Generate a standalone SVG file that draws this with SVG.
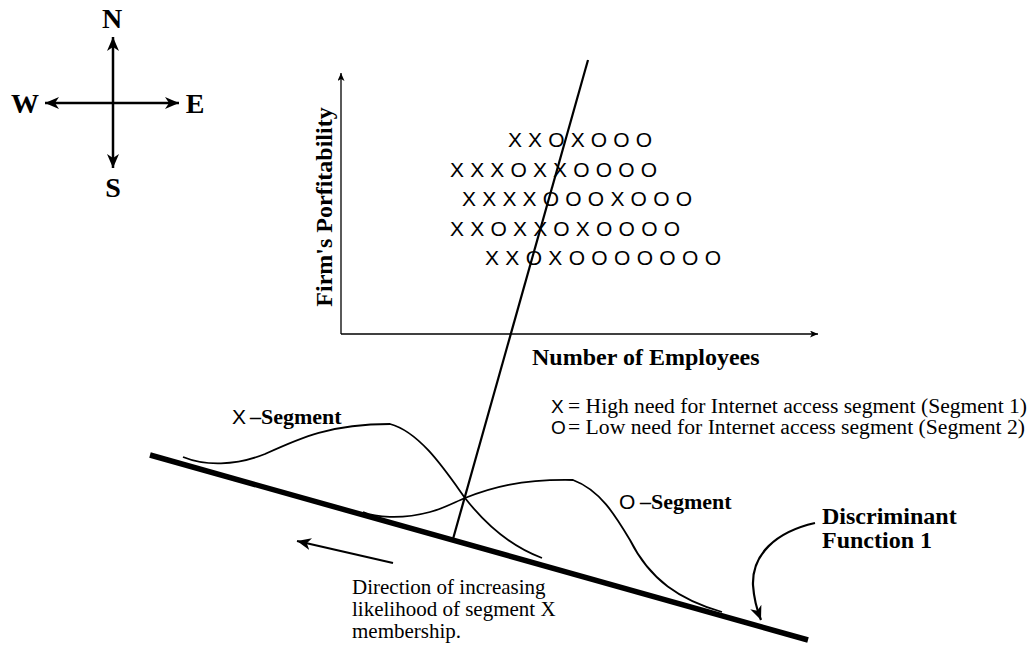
<svg xmlns="http://www.w3.org/2000/svg" width="1029" height="645" viewBox="0 0 1029 645">
<style>
.bold{font-family:"Liberation Serif","Times New Roman",serif;font-weight:bold;fill:#000}
.serif{font-family:"Liberation Serif","Times New Roman",serif;fill:#000}
.sans{font-family:"Liberation Sans",Arial,sans-serif;fill:#000}
.ln{fill:none;stroke:#000}
</style>
<defs>
<marker id="ah" markerUnits="userSpaceOnUse" markerWidth="16" markerHeight="14" refX="14" refY="6" orient="auto">
<path d="M0,0 L14,6 L0,12 L4,6 z" fill="#000"/>
</marker>
<marker id="ahs" markerUnits="userSpaceOnUse" markerWidth="10" markerHeight="8" refX="8" refY="3.5" orient="auto">
<path d="M0,0 L8,3.5 L0,7 L2,3.5 z" fill="#000"/>
</marker>
</defs>

<g id="compass">
<line class="ln" x1="113" y1="102" x2="113" y2="37" stroke-width="2.5" marker-end="url(#ah)"/>
<line class="ln" x1="113" y1="102" x2="113" y2="168" stroke-width="2.5" marker-end="url(#ah)"/>
<line class="ln" x1="113" y1="103" x2="45" y2="103" stroke-width="2.5" marker-end="url(#ah)"/>
<line class="ln" x1="113" y1="103" x2="179" y2="103" stroke-width="2.5" marker-end="url(#ah)"/>
<text class="bold" x="112" y="28" font-size="28" text-anchor="middle">N</text>
<text class="bold" x="25" y="113" font-size="28" text-anchor="middle">W</text>
<text class="bold" x="195" y="113" font-size="28" text-anchor="middle">E</text>
<text class="bold" x="113" y="197" font-size="28" text-anchor="middle">S</text>
</g>

<g id="axes">
<line class="ln" x1="341" y1="334" x2="341" y2="73" stroke-width="1.3" marker-end="url(#ahs)"/>
<line class="ln" x1="341" y1="334" x2="818" y2="334" stroke-width="1.3" marker-end="url(#ahs)"/>
<text class="bold" font-size="24" text-anchor="middle" transform="translate(332,207) rotate(-90)">Firm's Porfitability</text>
<text class="bold" x="532" y="365" font-size="24">Number of Employees</text>
</g>

<g id="data" class="sans" font-size="21">
<text x="508" y="147" textLength="144" lengthAdjust="spacing">XXOXOOO</text>
<text x="450" y="177" textLength="207" lengthAdjust="spacing">XXXOXXOOOO</text>
<text x="462" y="206" textLength="230" lengthAdjust="spacing">XXXXOOOXOOO</text>
<text x="450" y="236" textLength="230" lengthAdjust="spacing">XXOXXOXOOOO</text>
<text x="485" y="265" textLength="236" lengthAdjust="spacing">XXOXOOOOOOO</text>
</g>

<g id="connectors">
<line id="discriminant-axis" class="ln" x1="588" y1="60" x2="453" y2="539" stroke-width="2.2"/>
<line id="discriminant-function" class="ln" x1="150" y1="455" x2="808" y2="640" stroke-width="5.5"/>
<path id="x-curve" class="ln" stroke-width="1.8" d="M183,457 C205,466 235,466 265,454 C300,438 330,424 390,424 C420,432 445,470 465,498 C490,530 515,548 542,558"/>
<path id="o-curve" class="ln" stroke-width="1.8" d="M363,512 C375,517 400,520 430,512 C445,508 455,502 465,498 C490,488 520,479 573,480 C600,490 615,515 630,540 C650,580 680,600 722,612"/>
<line id="direction-arrow" class="ln" x1="393" y1="563" x2="297" y2="541" stroke-width="2.2" marker-end="url(#ah)"/>
<path id="df-arrow" class="ln" stroke-width="2.2" d="M815,523 C775,532 752,555 753,585 C754,600 757,610 761,620" marker-end="url(#ah)"/>
</g>

<g id="x-segment-label">
<text class="sans" x="232" y="424" font-size="21">X</text>
<text class="bold" x="250" y="424" font-size="22">–Segment</text>
</g>
<g id="o-segment-label">
<text class="sans" x="619" y="509" font-size="21">O</text>
<text class="bold" x="640" y="509" font-size="22">–Segment</text>
</g>

<g id="legend">
<text class="sans" x="551" y="413" font-size="19">X</text>
<text class="serif" x="568" y="413" font-size="20" textLength="459" lengthAdjust="spacingAndGlyphs">= High need for Internet access segment (Segment 1)</text>
<text class="sans" x="551" y="434" font-size="19">O</text>
<text class="serif" x="568" y="434" font-size="20" textLength="457" lengthAdjust="spacingAndGlyphs">= Low need for Internet access segment (Segment 2)</text>
</g>

<g id="discriminant-label" class="bold" font-size="24">
<text x="822" y="524">Discriminant</text>
<text x="822" y="548">Function 1</text>
</g>

<g id="direction-label" class="serif" font-size="21">
<text x="352" y="594">Direction of increasing</text>
<text x="352" y="616">likelihood of segment X</text>
<text x="352" y="638">membership.</text>
</g>
</svg>
